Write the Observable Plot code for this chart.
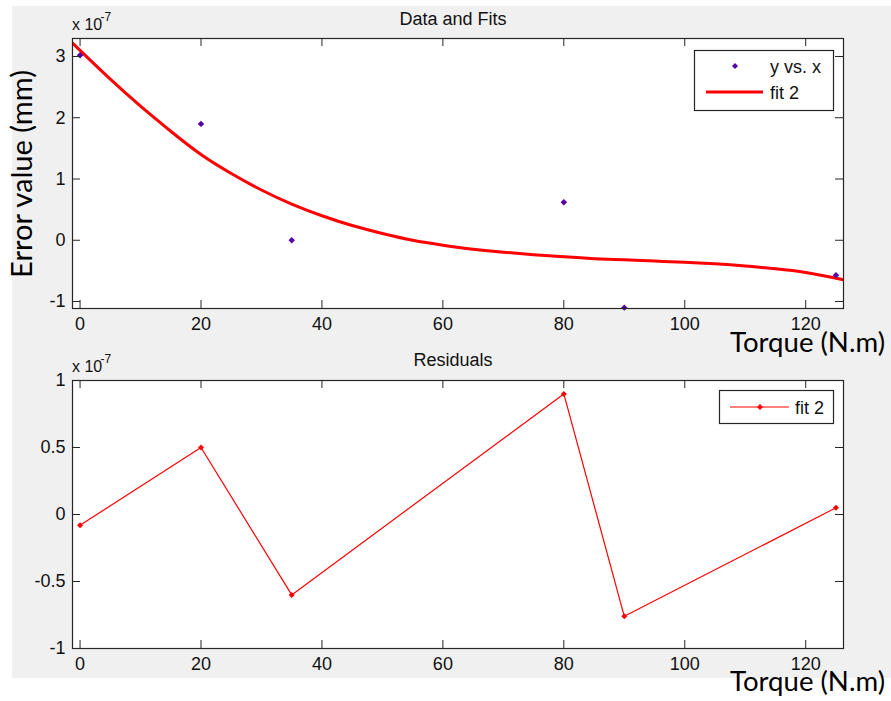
<!DOCTYPE html>
<html><head><meta charset="utf-8">
<script src="https://cdn.jsdelivr.net/npm/d3@7"></script>
<script src="https://cdn.jsdelivr.net/npm/@observablehq/plot@0.6"></script>
<style>
html,body{margin:0;padding:0;background:#fff;}
#wrap{position:relative;width:891px;height:701px;overflow:hidden;font-family:"Liberation Sans",Arial,sans-serif;}
#bg{position:absolute;left:12px;top:6px;width:879px;height:672px;background:#f0f0f0;}
.abs{position:absolute;left:0;}
#ov{position:absolute;left:0;top:0;pointer-events:none;}
</style></head><body>
<div id="wrap">
  <div id="bg"></div>
  <div id="top" class="abs" style="top:0px"></div>
  <div id="bot" class="abs" style="top:340px"></div>
  <svg id="ov" width="891" height="701" xmlns="http://www.w3.org/2000/svg"></svg>
</div>
<script>
// ---- data (values in units of 1e-7 mm) ----
const torque = [0, 20, 35, 80, 90, 125];
const errorValue = [3.02, 1.90, 0.00, 0.62, -1.10, -0.57];
const residuals = [-0.08, 0.50, -0.60, 0.90, -0.76, 0.05];
const fitTorque = [-1.25, 0, 5, 10, 15, 20, 25, 30, 35, 40, 45, 50, 55, 60, 65, 70, 75, 80, 85, 90, 95, 100, 105, 110, 115, 120, 125, 126.25];
const fitValue  = [3.22, 3.10, 2.63, 2.19, 1.78, 1.40, 1.09, 0.82, 0.59, 0.40, 0.24, 0.11, 0.00, -0.08, -0.145, -0.195, -0.235, -0.27, -0.30, -0.32, -0.34, -0.36, -0.385, -0.42, -0.465, -0.525, -0.62, -0.645];
const xTicks = [0, 20, 40, 60, 80, 100, 120];
const yTicksTop = [-1, 0, 1, 2, 3];
const yTicksBot = [-1, -0.5, 0, 0.5, 1];
const xDomain = [-1.25, 126.25];
const yDomainTop = [-1.114, 3.294];
const yDomainBot = [-1, 1];

const dataPts = torque.map((x, i) => ({x, y: errorValue[i]}));
const fitPts = fitTorque.map((x, i) => ({x, y: fitValue[i]}));
const resPts = torque.map((x, i) => ({x, y: residuals[i]}));

const FONT = "Liberation Sans, Arial, sans-serif";
const AX = "#262626";
const W = 891, ML = 72, MR = 48, MB = 32, TL = 8;

function makeAxes({height, marginTop, yDomain, yTicks, marks}) {
  const ph = height - marginTop - MB;
  const pw = W - ML - MR;
  return Plot.plot({
    width: W, height, marginLeft: ML, marginRight: MR, marginTop, marginBottom: MB,
    style: {background: "transparent", fontFamily: FONT, fontSize: "18px", color: "#111"},
    x: {domain: xDomain},
    y: {domain: yDomain},
    marks: [
      Plot.frame({fill: "white", stroke: null}),
      ...marks,
      Plot.ruleX(xTicks, {x: d => d, insetTop: ph - TL, stroke: AX}),
      Plot.ruleX(xTicks, {x: d => d, insetBottom: ph - TL, stroke: AX}),
      Plot.ruleY(yTicks, {y: d => d, insetRight: pw - TL, stroke: AX}),
      Plot.ruleY(yTicks, {y: d => d, insetLeft: pw - TL, stroke: AX}),
      Plot.frame({stroke: AX, strokeWidth: 1.2}),
      Plot.axisX({ticks: xTicks, tickSize: 0, tickPadding: 9, label: null, fontSize: 18, tickFormat: d => String(d)}),
      Plot.axisY({ticks: yTicks, tickSize: 0, tickPadding: 7, label: null, fontSize: 18, tickFormat: d => String(d)})
    ]
  });
}

document.getElementById("top").append(makeAxes({
  height: 340, marginTop: 38, yDomain: yDomainTop, yTicks: yTicksTop,
  marks: [
    Plot.line(fitPts, {x: "x", y: "y", stroke: "#ff0000", strokeWidth: 3, curve: "natural", clip: true}),
    Plot.dot(dataPts, {x: "x", y: "y", symbol: "diamond2", r: 2.9, fill: "#5500aa", stroke: null})
  ]
}));

document.getElementById("bot").append(makeAxes({
  height: 340, marginTop: 40, yDomain: yDomainBot, yTicks: yTicksBot,
  marks: [
    Plot.line(resPts, {x: "x", y: "y", stroke: "#ff0000", strokeWidth: 1.2}),
    Plot.dot(resPts, {x: "x", y: "y", symbol: "diamond2", r: 2.7, fill: "#ff0000", stroke: null})
  ]
}));

// ---- annotations / legends ----
const ov = d3.select("#ov");
function txt(x, y, s, opts = {}) {
  const t = ov.append("text").attr("x", x).attr("y", y).text(s)
    .attr("font-family", opts.family || FONT)
    .attr("font-size", opts.size || 18)
    .attr("fill", opts.fill || "#111")
    .attr("text-anchor", opts.anchor || "start");
  if (opts.len) t.attr("textLength", opts.len).attr("lengthAdjust", "spacingAndGlyphs");
  if (opts.transform) t.attr("transform", opts.transform);
  return t;
}
function diamond(cx, cy, r, fill) {
  ov.append("path").attr("d", `M${cx},${cy - r}L${cx + r},${cy}L${cx},${cy + r}L${cx - r},${cy}Z`).attr("fill", fill);
}

// exponent labels
txt(72, 30, "x 10", {size: 16}); txt(100.5, 21, "-7", {size: 12});
txt(72, 372, "x 10", {size: 16}); txt(100.5, 363, "-7", {size: 12});
// titles
txt(453, 25, "Data and Fits", {anchor: "middle"});
txt(453, 366, "Residuals", {anchor: "middle"});
// axis labels
txt(0, 0, "Error value (mm)", {family: "Lato, 'Open Sans', sans-serif", size: 28, anchor: "middle", len: 208, transform: "translate(31.5,174) rotate(-90)", fill: "#000"});
txt(730, 352, "Torque (N.m)", {family: "Lato, 'Open Sans', sans-serif", size: 27, len: 155, fill: "#000"});
txt(730, 691, "Torque (N.m)", {family: "Lato, 'Open Sans', sans-serif", size: 27, len: 155, fill: "#000"});

// legend 1
ov.append("rect").attr("x", 694.5).attr("y", 50.5).attr("width", 139).attr("height", 60).attr("fill", "white").attr("stroke", AX).attr("stroke-width", 1.2);
diamond(735, 66, 3, "#5500aa");
txt(770, 73, "y vs. x");
ov.append("line").attr("x1", 706).attr("x2", 763).attr("y1", 92).attr("y2", 92).attr("stroke", "#ff0000").attr("stroke-width", 3);
txt(770, 99, "fit 2");
// legend 2
ov.append("rect").attr("x", 719.5).attr("y", 390.5).attr("width", 114).attr("height", 33).attr("fill", "white").attr("stroke", AX).attr("stroke-width", 1.2);
ov.append("line").attr("x1", 730).attr("x2", 789).attr("y1", 407).attr("y2", 407).attr("stroke", "#ff0000").attr("stroke-width", 1.2);
diamond(760, 407, 3, "#ff0000");
txt(795, 414, "fit 2");
</script>
</body></html>
